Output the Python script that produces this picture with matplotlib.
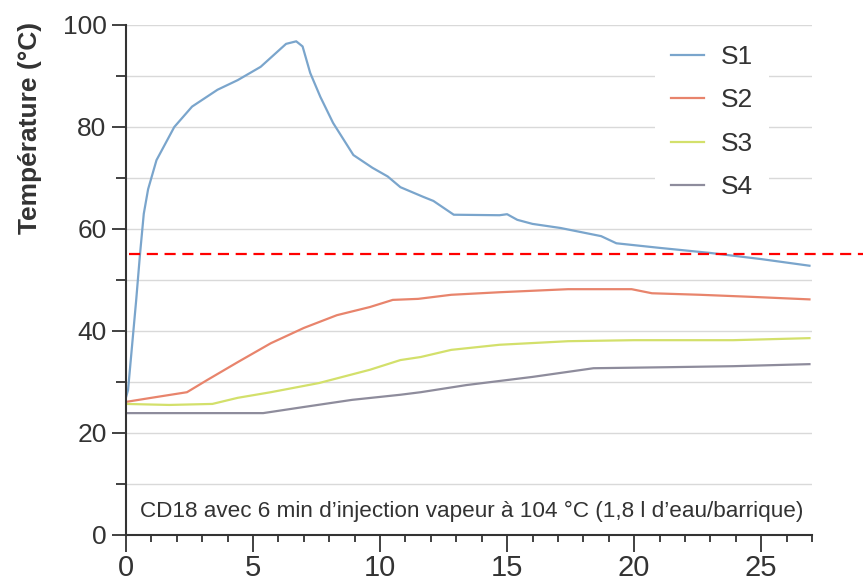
import matplotlib
matplotlib.use('Agg')
import matplotlib.pyplot as plt
from matplotlib.ticker import MultipleLocator

plt.rcParams['font.family'] = ['Liberation Sans', 'DejaVu Sans']

# time (min) / temperature (°C)
s1_t = [0, 0.08, 0.4, 0.55, 0.7, 0.87, 1.2, 1.9, 2.6, 3.6, 4.4, 5.3, 5.9, 6.3, 6.7, 6.95, 7.25, 7.65, 8.15,
        8.95, 9.7, 10.3, 10.8, 11.7, 12.1, 12.9, 14.7, 15.0, 15.4, 16.0, 17.1, 17.9, 18.7, 19.3, 21.0,
        23.0, 25.0, 26.9]
s1_temp = [27, 28.4, 46, 55, 63, 67.8, 73.5, 80, 84, 87.3, 89.2, 91.8, 94.5, 96.3, 96.8, 95.8, 90.6, 85.9,
           80.8, 74.5, 72, 70.3, 68.2, 66.3, 65.5, 62.8, 62.7, 62.9, 61.8, 61.0, 60.2, 59.4, 58.6, 57.2,
           56.3, 55.3, 54.1, 52.8]

s2_t = [0, 1.0, 2.4, 3.2, 4.4, 5.7, 7.0, 8.3, 9.6, 10.5, 11.5, 12.8, 14.7, 17.4, 19.9, 20.7, 22.6, 24.6, 26.9]
s2_temp = [26.1, 26.9, 28.0, 30.4, 33.9, 37.6, 40.6, 43.1, 44.7, 46.1, 46.3, 47.1, 47.6, 48.2, 48.2, 47.4,
           47.1, 46.7, 46.2]

s3_t = [0, 1.7, 3.4, 4.4, 5.7, 7.6, 9.6, 10.8, 11.6, 12.8, 14.7, 17.4, 20.0, 23.9, 26.9]
s3_temp = [25.7, 25.5, 25.7, 26.9, 28.0, 29.8, 32.4, 34.3, 34.9, 36.3, 37.3, 38.0, 38.2, 38.2, 38.6]

s4_t = [0, 3.7, 5.4, 7.0, 8.9, 10.8, 11.6, 13.4, 16.0, 18.4, 21.3, 23.9, 26.9]
s4_temp = [23.9, 23.9, 23.9, 25.1, 26.5, 27.5, 28.0, 29.4, 31.0, 32.7, 32.9, 33.1, 33.5]

threshold = 55
note = "CD18 avec 6 min d\u2019injection vapeur à 104 °C (1,8 l d\u2019eau/barrique)"

fig = plt.figure(figsize=(8.63, 5.85), dpi=100)
ax = fig.add_axes([126 / 863, 50 / 585, 686 / 863, 510 / 585])

for y in range(10, 101, 10):
    ax.axhline(y, color='#d9d9d9', lw=1, zorder=0)

ax.plot(s1_t, s1_temp, color='#7aa5cc', lw=1.6, label='S1')
ax.plot(s2_t, s2_temp, color='#e8846c', lw=1.6, label='S2')
ax.plot(s3_t, s3_temp, color='#d3e06b', lw=1.6, label='S3')
ax.plot(s4_t, s4_temp, color='#8e8c9c', lw=1.6, label='S4')

# red threshold line runs past the axes to the figure edge
ax.plot([0.1, 29.5], [threshold, threshold], color='red', lw=1.6, ls=(0, (5, 3)), clip_on=False, zorder=5)

ax.set_xlim(0, 27)
ax.set_ylim(0, 100)
for s in ['top', 'right']:
    ax.spines[s].set_visible(False)
for s in ['left', 'bottom']:
    ax.spines[s].set_color('#333333')
    ax.spines[s].set_linewidth(1.5)

ax.xaxis.set_major_locator(MultipleLocator(5))
ax.xaxis.set_minor_locator(MultipleLocator(1))
ax.yaxis.set_major_locator(MultipleLocator(20))
ax.yaxis.set_minor_locator(MultipleLocator(10))
ax.tick_params(axis='y', which='major', length=10, width=1.3, color='#333333', labelsize=19, pad=4,
               labelcolor='#333333')
ax.tick_params(axis='y', which='minor', length=7, width=1.3, color='#333333')
ax.tick_params(axis='x', which='major', length=12, width=1.3, color='#333333', labelsize=21, pad=2,
               labelcolor='#333333')
ax.tick_params(axis='x', which='minor', length=5, width=1.3, color='#333333')

ax.text(0.55, 3.5, note, fontsize=16.2, color='#333333', va='baseline')

fig.text(30 / 863, 1 - 128 / 585, 'Température (°C)', rotation=90, ha='center', va='center',
         fontsize=19, fontweight='bold', color='#333333')

leg = ax.legend(loc='upper left', bbox_to_anchor=(655 / 863, 1 - 29 / 585), bbox_transform=fig.transFigure,
                fontsize=19, frameon=True, facecolor='white', edgecolor='none', framealpha=1,
                handlelength=1.25, handletextpad=0.64, labelspacing=0.74, borderpad=0.6, borderaxespad=0)
for t in leg.get_texts():
    t.set_color('#333333')

fig.savefig('out.png', dpi=100)
